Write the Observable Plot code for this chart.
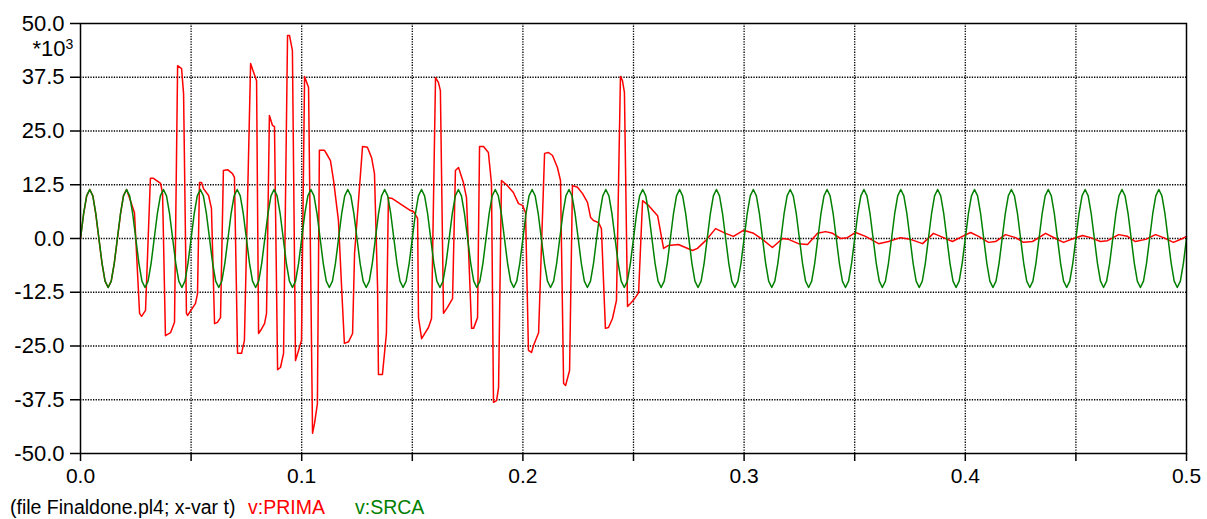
<!DOCTYPE html>
<html>
<head>
<meta charset="utf-8">
<script src="https://cdn.jsdelivr.net/npm/d3@7"></script>
<script src="https://cdn.jsdelivr.net/npm/@observablehq/plot@0.6"></script>
<style>
  body { margin: 0; background: #fff; }
  #chart { width: 1207px; height: 519px; font-family: "Liberation Sans", Arial, sans-serif; }
  #chart svg { display: block; }
</style>
</head>
<body>
<div id="chart"></div>
<script>
// Time axis (s) and voltage axis (kV, shown as *10^3 V)
const xTicks = [0, 0.05, 0.1, 0.15, 0.2, 0.25, 0.3, 0.35, 0.4, 0.45, 0.5];
const yTicks = [-50, -37.5, -25, -12.5, 0, 12.5, 25, 37.5, 50];

// v:SRCA — source voltage, sampled every 1/720 s (12 samples per 60 Hz cycle)
const srcaStep = 1 / 720;
const srcaKV = [
  0, 5.7, 9.9, 11.4, 9.9, 5.7, 0, -5.7, -9.9, -11.4, -9.9, -5.7,
  0, 5.7, 9.9, 11.4, 9.9, 5.7, 0, -5.7, -9.9, -11.4, -9.9, -5.7,
  0, 5.7, 9.9, 11.4, 9.9, 5.7, 0, -5.7, -9.9, -11.4, -9.9, -5.7,
  0, 5.7, 9.9, 11.4, 9.9, 5.7, 0, -5.7, -9.9, -11.4, -9.9, -5.7,
  0, 5.7, 9.9, 11.4, 9.9, 5.7, 0, -5.7, -9.9, -11.4, -9.9, -5.7,
  0, 5.7, 9.9, 11.4, 9.9, 5.7, 0, -5.7, -9.9, -11.4, -9.9, -5.7,
  0, 5.7, 9.9, 11.4, 9.9, 5.7, 0, -5.7, -9.9, -11.4, -9.9, -5.7,
  0, 5.7, 9.9, 11.4, 9.9, 5.7, 0, -5.7, -9.9, -11.4, -9.9, -5.7,
  0, 5.7, 9.9, 11.4, 9.9, 5.7, 0, -5.7, -9.9, -11.4, -9.9, -5.7,
  0, 5.7, 9.9, 11.4, 9.9, 5.7, 0, -5.7, -9.9, -11.4, -9.9, -5.7,
  0, 5.7, 9.9, 11.4, 9.9, 5.7, 0, -5.7, -9.9, -11.4, -9.9, -5.7,
  0, 5.7, 9.9, 11.4, 9.9, 5.7, 0, -5.7, -9.9, -11.4, -9.9, -5.7,
  0, 5.7, 9.9, 11.4, 9.9, 5.7, 0, -5.7, -9.9, -11.4, -9.9, -5.7,
  0, 5.7, 9.9, 11.4, 9.9, 5.7, 0, -5.7, -9.9, -11.4, -9.9, -5.7,
  0, 5.7, 9.9, 11.4, 9.9, 5.7, 0, -5.7, -9.9, -11.4, -9.9, -5.7,
  0, 5.7, 9.9, 11.4, 9.9, 5.7, 0, -5.7, -9.9, -11.4, -9.9, -5.7,
  0, 5.7, 9.9, 11.4, 9.9, 5.7, 0, -5.7, -9.9, -11.4, -9.9, -5.7,
  0, 5.7, 9.9, 11.4, 9.9, 5.7, 0, -5.7, -9.9, -11.4, -9.9, -5.7,
  0, 5.7, 9.9, 11.4, 9.9, 5.7, 0, -5.7, -9.9, -11.4, -9.9, -5.7,
  0, 5.7, 9.9, 11.4, 9.9, 5.7, 0, -5.7, -9.9, -11.4, -9.9, -5.7,
  0, 5.7, 9.9, 11.4, 9.9, 5.7, 0, -5.7, -9.9, -11.4, -9.9, -5.7,
  0, 5.7, 9.9, 11.4, 9.9, 5.7, 0, -5.7, -9.9, -11.4, -9.9, -5.7,
  0, 5.7, 9.9, 11.4, 9.9, 5.7, 0, -5.7, -9.9, -11.4, -9.9, -5.7,
  0, 5.7, 9.9, 11.4, 9.9, 5.7, 0, -5.7, -9.9, -11.4, -9.9, -5.7,
  0, 5.7, 9.9, 11.4, 9.9, 5.7, 0, -5.7, -9.9, -11.4, -9.9, -5.7,
  0, 5.7, 9.9, 11.4, 9.9, 5.7, 0, -5.7, -9.9, -11.4, -9.9, -5.7,
  0, 5.7, 9.9, 11.4, 9.9, 5.7, 0, -5.7, -9.9, -11.4, -9.9, -5.7,
  0, 5.7, 9.9, 11.4, 9.9, 5.7, 0, -5.7, -9.9, -11.4, -9.9, -5.7,
  0, 5.7, 9.9, 11.4, 9.9, 5.7, 0, -5.7, -9.9, -11.4, -9.9, -5.7,
  0, 5.7, 9.9, 11.4, 9.9, 5.7, 0, -5.7, -9.9, -11.4, -9.9, -5.7,
  0
];

// v:PRIMA — primary voltage, [t (s), v (kV)]
const primaSamples = [
  [0, 0], [0.0014, 5.7], [0.0028, 9.9], [0.0042, 11.4], [0.0056, 9.9], [0.0069, 5.7],
  [0.0083, 0], [0.0097, -5.7], [0.0111, -9.9], [0.0125, -11.4], [0.0139, -9.9], [0.0153, -5.7],
  [0.0167, 0], [0.0181, 5.7], [0.0194, 9.9], [0.0208, 11.4],
  [0.0226, 8.8], [0.0244, 6.0], [0.0267, -17.4], [0.0276, -18.1], [0.0294, -16.7],
  [0.0316, 14.0], [0.0330, 14.0], [0.0362, 12.8], [0.0371, 10.5],
  [0.0384, -22.6], [0.0407, -21.9], [0.0425, -19.5],
  [0.0439, 40.2], [0.0457, 39.5], [0.0466, 33.7],
  [0.0479, -17.4], [0.0484, -17.9], [0.0520, -15.1], [0.0529, -12.8],
  [0.0538, 13.0], [0.0547, 13.0], [0.0556, 11.6], [0.0579, 10.0], [0.0592, 7.0],
  [0.0606, -19.8], [0.0619, -19.5], [0.0633, -18.4],
  [0.0646, 15.8], [0.0665, 16.0], [0.0687, 15.1], [0.0696, 14.2],
  [0.0710, -26.7], [0.0728, -26.7], [0.0741, -23.7],
  [0.0769, 40.7], [0.0778, 39.3], [0.0796, 36.7],
  [0.0805, -22.1], [0.0814, -21.4], [0.0832, -19.8], [0.0841, -17.4],
  [0.0854, 28.6], [0.0868, 26.3], [0.0877, 26.0],
  [0.0891, -30.5], [0.0904, -30.0], [0.0918, -26.7],
  [0.0936, 47.2], [0.0945, 47.2], [0.0958, 43.7],
  [0.0972, -28.4], [0.0986, -26.0], [0.0999, -23.7],
  [0.1013, 37.7], [0.1031, 35.1],
  [0.1049, -45.3], [0.1058, -43.0], [0.1071, -38.4],
  [0.1080, 20.5], [0.1103, 20.5], [0.1117, 19.3], [0.1130, 18.1], [0.1144, 13.5], [0.1166, 4.2],
  [0.1184, -15.1], [0.1193, -24.4], [0.1212, -24.0], [0.1230, -22.1], [0.1239, -3.5],
  [0.1275, 21.4], [0.1297, 21.2], [0.1316, 18.8], [0.1329, 15.1], [0.1343, -11.4],
  [0.1347, -31.6], [0.1365, -31.6], [0.1383, -22.1],
  [0.1392, 9.5], [0.1410, 9.3], [0.1456, 7.7], [0.1492, 6.5], [0.1505, 6.3], [0.1524, 4.7],
  [0.1528, -18.4], [0.1542, -23.3], [0.1573, -20.7], [0.1587, -18.6],
  [0.1605, 37.4], [0.1618, 36.3], [0.1627, 34.4],
  [0.1641, -17.4], [0.1659, -16.0], [0.1682, -14.0],
  [0.1695, 15.8], [0.1709, 16.5], [0.1731, 13.0], [0.1745, 9.5],
  [0.1768, -20.9], [0.1777, -20.9], [0.1795, -18.4],
  [0.1804, 21.4], [0.1822, 21.4], [0.1844, 20.0], [0.1858, 12.8],
  [0.1867, -38.1], [0.1881, -37.7], [0.1890, -34.7],
  [0.1903, 13.5], [0.1930, 12.3], [0.1957, 10.7], [0.1980, 8.1], [0.1998, 7.7], [0.2012, 6.0],
  [0.2025, -26.0], [0.2039, -26.5], [0.2048, -24.9], [0.2071, -21.9],
  [0.2098, 19.8], [0.2116, 20.0], [0.2134, 19.3], [0.2156, 16.5], [0.2170, 13.5],
  [0.2184, -33.7], [0.2193, -34.2], [0.2211, -30.7],
  [0.2224, 12.3], [0.2247, 11.9], [0.2269, 10.5], [0.2292, 8.4], [0.2306, 4.9], [0.2319, 4.2],
  [0.2342, 3.7], [0.2355, 2.3],
  [0.2373, -20.9], [0.2387, -20.7], [0.2405, -18.6], [0.2423, -14.4],
  [0.2441, 37.7], [0.2450, 36.7], [0.2459, 34.0],
  [0.2473, -15.8], [0.2486, -15.1], [0.2505, -14.0], [0.2523, -12.6],
  [0.2541, 8.8], [0.2568, 7.7], [0.2609, 5.3],
  [0.2636, -2.3], [0.2658, -1.6], [0.2703, -1.4], [0.2735, -2.1], [0.2767, -2.8], [0.2789, -2.3],
  [0.2826, -0.5], [0.2871, 2.3], [0.2916, 1.2], [0.2952, 0.5], [0.2997, 1.9], [0.3043, 1.2],
  [0.3083, -0.2], [0.3128, -2.1], [0.3174, 0], [0.3201, -0.2], [0.3246, -1.2], [0.3287, -1.4],
  [0.3332, 1.2], [0.3368, 1.6], [0.3400, 1.2], [0.3436, 0], [0.3467, 0.2], [0.3504, 1.4],
  [0.3549, 0.5], [0.3608, -1.2], [0.3653, -0.7], [0.3707, 0.2], [0.3752, -0.2], [0.3807, -1.2],
  [0.3856, 1.2], [0.3888, 0.5], [0.3942, -0.7], [0.3987, 0.5], [0.4024, 1.4], [0.4060, 0.5],
  [0.4105, -0.9], [0.4137, -0.7], [0.4182, 0.9], [0.4227, 0.2], [0.4263, -0.9], [0.4304, -0.7],
  [0.4363, 1.2], [0.4408, 0], [0.4444, -0.9], [0.4489, 0], [0.4530, 0.7], [0.4566, 0.2],
  [0.4611, -0.7], [0.4643, -0.5], [0.4693, 0.9], [0.4733, 0.5], [0.4769, -0.7], [0.4815, -0.2],
  [0.4860, 0.9], [0.4896, 0.2], [0.4941, -0.9], [0.4982, 0], [0.5, 0.5]
];

// Legend entries under the plot
const legendItems = [
  {text: "(file Finaldone.pl4; x-var t)", color: "#000000", x: 10},
  {text: "v:PRIMA", color: "#ff0000", x: 248},
  {text: "v:SRCA", color: "#008000", x: 355}
];

const srca = srcaKV.map((v, i) => ({t: i * srcaStep, v}));
const prima = primaSamples.map(([t, v]) => ({t, v}));

const fontFamily = '"Liberation Sans", Arial, sans-serif';
const gridStyle = {stroke: "#000", strokeOpacity: 1, strokeWidth: 1.3, strokeDasharray: "1.3,1.3"};

const chart = Plot.plot({
  width: 1207,
  height: 490,
  marginLeft: 80,
  marginRight: 21,
  marginTop: 23,
  marginBottom: 37,
  style: {fontFamily, background: "#fff", color: "#000", overflow: "visible"},
  x: {domain: [0, 0.5]},
  y: {domain: [-50, 50]},
  marks: [
    Plot.gridX(xTicks.slice(1, -1), gridStyle),
    Plot.gridY(yTicks.slice(1, -1), gridStyle),
    Plot.line(prima, {x: "t", y: "v", stroke: "#ff0000", strokeWidth: 1.5}),
    Plot.line(srca, {x: "t", y: "v", stroke: "#008000", strokeWidth: 1.5}),
    Plot.frame({stroke: "#000", strokeWidth: 1.5}),
    Plot.axisY(yTicks, {
      anchor: "left", tickSize: 10, tickPadding: 6, fontSize: 22,
      strokeWidth: 1.5, tickFormat: (d) => d.toFixed(1), label: null
    }),
    Plot.axisX(xTicks, {
      anchor: "bottom", tickSize: 8, tickPadding: 7, fontSize: 21,
      strokeWidth: 1.5, label: null,
      tickFormat: (d) => (Math.round(d * 20) % 2 === 0 ? d.toFixed(1) : "")
    }),
    // multiplier for the voltage axis: *10^3
    Plot.text(["*10"], {frameAnchor: "top-left", text: (d) => d, textAnchor: "end",
      lineAnchor: "bottom", dx: -15, dy: 32, fontSize: 22, fill: "#000"}),
    Plot.text(["3"], {frameAnchor: "top-left", text: (d) => d, textAnchor: "start",
      lineAnchor: "bottom", dx: -15, dy: 25, fontSize: 14, fill: "#000"})
  ]
});

const root = document.getElementById("chart");
root.appendChild(chart);

// Legend line below the chart
const legend = d3.select(root).append("svg")
  .attr("width", 1207).attr("height", 29)
  .style("display", "block")
  .style("font-family", fontFamily);
legend.selectAll("text")
  .data(legendItems)
  .join("text")
  .attr("x", (d) => d.x)
  .attr("y", 24)
  .attr("font-size", 19.5)
  .attr("fill", (d) => d.color)
  .text((d) => d.text);
</script>
</body>
</html>
